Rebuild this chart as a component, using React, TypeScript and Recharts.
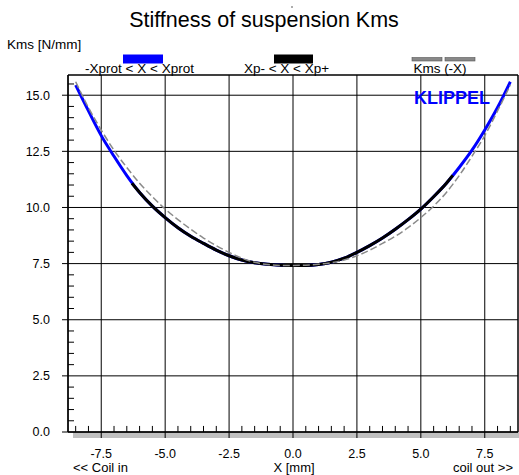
import { CartesianGrid, Line, LineChart, ReferenceArea, ReferenceLine, XAxis, YAxis } from 'recharts';

// displacement X [mm] and stiffness Kms [N/mm]
const xPos = [
  -8.5, -8, -7.5, -7, -6.5, -6, -5.5, -5, -4.5, -4, -3.5, -3, -2.5, -2, -1.5, -1, -0.5,
  0, 0.5, 1, 1.5, 2, 2.5, 3, 3.5, 4, 4.5, 5, 5.5, 6, 6.5, 7, 7.5, 8, 8.5
];
const kms = [
  15.45, 14.3, 13.2, 12.28, 11.42, 10.67, 10.06, 9.55, 9.1, 8.72, 8.4, 8.1, 7.85, 7.66, 7.54, 7.47, 7.43,
  7.42, 7.42, 7.46, 7.56, 7.74, 8.0, 8.3, 8.64, 9.03, 9.46, 9.93, 10.48, 11.08, 11.78, 12.55, 13.45, 14.45, 15.6
];
// Xp- / Xp+ limits and Kms there
const xpLimits = [-6.3, 6.25];
const kmsAtXp = [11.08, 11.43];

const xTicks = [-7.5, -5, -2.5, 0, 2.5, 5, 7.5];
const yTicks = [0, 2.5, 5, 7.5, 10, 12.5, 15];
const xMinor = [-8.5, -8, -7, -6.5, -6, -5.5, -4.5, -4, -3.5, -3, -2, -1.5, -1, -0.5, 0.5, 1, 1.5, 2, 3, 3.5, 4, 4.5, 5.5, 6, 6.5, 7, 8, 8.5];
const yMinor = [0.5, 1, 1.5, 2, 3, 3.5, 4, 4.5, 5.5, 6, 6.5, 7, 8, 8.5, 9, 9.5, 10.5, 11, 11.5, 12, 13, 13.5, 14, 14.5, 15.5];

const X_MIN = -8.8;
const X_MAX = 8.8;
const Y_MAX = 15.9;

const font = "'Liberation Sans', Arial, sans-serif";

const blueData = xPos.map((x, i) => ({ x, kms: kms[i] }));
const blackData = [
  { x: xpLimits[0], kms: kmsAtXp[0] },
  ...xPos.map((x, i) => ({ x, kms: kms[i] })).filter((d) => d.x > xpLimits[0] && d.x < xpLimits[1]),
  { x: xpLimits[1], kms: kmsAtXp[1] }
];
// Kms(-X): mirrored curve
const mirrorData = xPos.map((x, i) => ({ x, kms: kms[kms.length - 1 - i] }));

export default function App() {
  return (
    <div style={{ position: 'fixed', left: 0, top: 0, width: 519, height: 475, background: '#fff', fontFamily: font }}>
      <div style={{ position: 'absolute', left: 73, top: 432, width: 446, height: 6, background: '#c0c0c0' }} />
      <div style={{ position: 'absolute', left: 0, top: 0 }}>
        <LineChart width={519} height={475} margin={{ top: 75, right: 1, left: 8, bottom: 0 }}>
          <CartesianGrid stroke="#000" strokeWidth={1} />
          <XAxis
            dataKey="x"
            type="number"
            domain={[X_MIN, X_MAX]}
            allowDataOverflow
            ticks={xTicks}
            interval={0}
            height={43}
            tickSize={6}
            tickMargin={11}
            tickFormatter={(v: number) => v.toFixed(1)}
            tick={{ fill: '#000', fontSize: 12.5, fontFamily: font }}
            axisLine={{ stroke: '#000' }}
            tickLine={{ stroke: '#000' }}
          />
          <YAxis
            type="number"
            domain={[0, Y_MAX]}
            allowDataOverflow
            ticks={yTicks}
            interval={0}
            width={60}
            tickSize={6}
            tickMargin={12}
            tickFormatter={(v: number) => v.toFixed(1)}
            tick={{ fill: '#000', fontSize: 12.5, fontFamily: font }}
            axisLine={{ stroke: '#000' }}
            tickLine={{ stroke: '#000' }}
          />
          <ReferenceArea x1={X_MIN} x2={X_MAX} y1={0} y2={Y_MAX} fill="none" stroke="#000" strokeWidth={1} />
          {xMinor.map((v) => (
            <ReferenceLine
              key={`xm${v}`}
              segment={[{ x: v, y: 0 }, { x: v, y: 0.27 }]}
              stroke="#000"
            />
          ))}
          {yMinor.map((v) => (
            <ReferenceLine
              key={`ym${v}`}
              segment={[{ x: X_MIN, y: v }, { x: X_MIN + 0.235, y: v }]}
              stroke="#000"
            />
          ))}
          <Line data={blueData} type="monotone" dataKey="kms" stroke="#0000ff" strokeWidth={3} dot={false} activeDot={false} isAnimationActive={false} />
          <Line data={blackData} type="monotone" dataKey="kms" stroke="#000" strokeWidth={3} dot={false} activeDot={false} isAnimationActive={false} />
          <Line data={mirrorData} type="monotone" dataKey="kms" stroke="#8a8a8a" strokeWidth={1.5} strokeDasharray="7 3" dot={false} activeDot={false} isAnimationActive={false} />
        </LineChart>
      </div>
      <svg width={519} height={475} style={{ position: 'absolute', left: 0, top: 0, pointerEvents: 'none' }}>
        <text x={264} y={27} textAnchor="middle" fontSize={21.5} fontFamily={font} fill="#000">
          Stiffness of suspension Kms
        </text>
        <circle cx={292} cy={7} r={0.8} fill="#444" />
        <text x={7} y={48.5} fontSize={13.5} fontFamily={font} fill="#000">
          Kms [N/mm]
        </text>
        <rect x={123} y={54.5} width={40} height={9} fill="#0000ff" />
        <rect x={274} y={54.5} width={39} height={9} fill="#000" />
        <rect x={412} y={57.5} width={30} height={3.5} fill="#888" stroke="#555" strokeWidth={0.6} />
        <rect x={445} y={57.5} width={30} height={3.5} fill="#888" stroke="#555" strokeWidth={0.6} />
        <text x={139.5} y={73} textAnchor="middle" fontSize={13.5} fontFamily={font} fill="#000">
          -Xprot &lt; X &lt; Xprot
        </text>
        <text x={286.5} y={73} textAnchor="middle" fontSize={13.5} fontFamily={font} fill="#000">
          Xp- &lt; X &lt; Xp+
        </text>
        <text x={440} y={73} textAnchor="middle" fontSize={13.5} fontFamily={font} fill="#000">
          Kms (-X)
        </text>
        <text x={414} y={104} fontSize={18} fontWeight="bold" fontFamily={font} fill="#0000ff">
          KLIPPEL
        </text>
        <text x={73} y={472} fontSize={13} fontFamily={font} fill="#000">
          &lt;&lt; Coil in
        </text>
        <text x={294} y={472} textAnchor="middle" fontSize={13} fontFamily={font} fill="#000">
          X [mm]
        </text>
        <text x={513} y={472} textAnchor="end" fontSize={13} fontFamily={font} fill="#000">
          coil out &gt;&gt;
        </text>
      </svg>
    </div>
  );
}
